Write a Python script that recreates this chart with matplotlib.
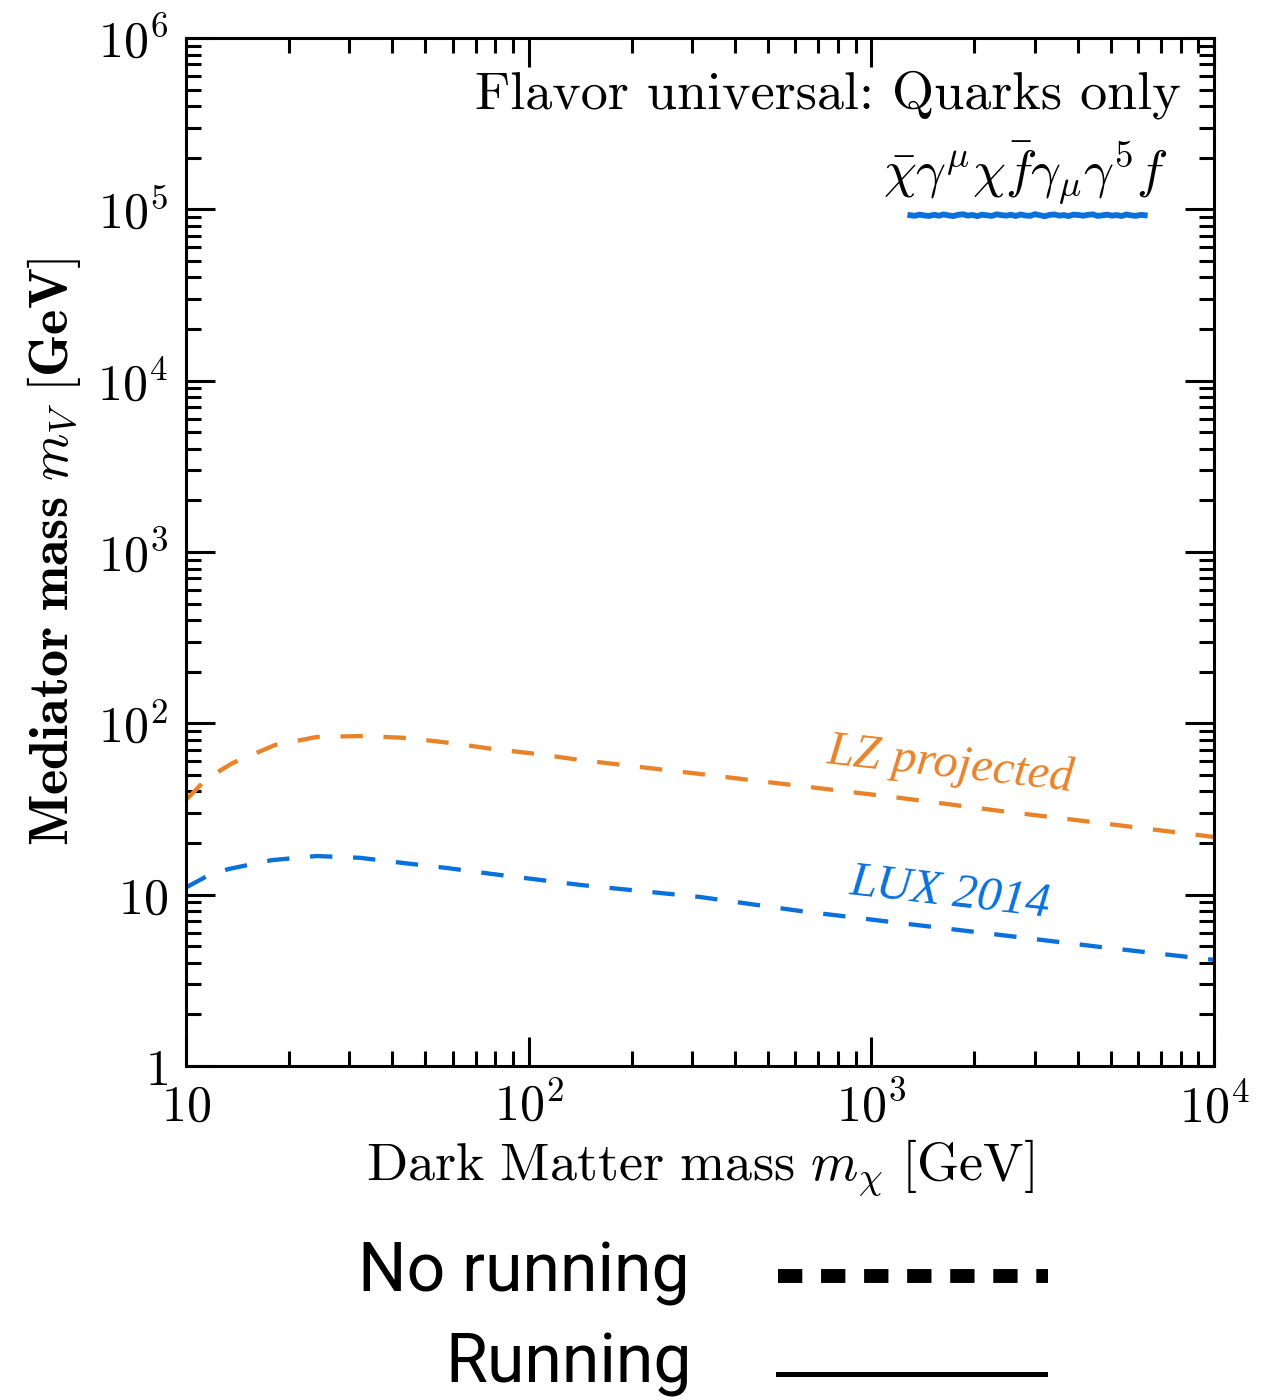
import matplotlib
matplotlib.use('Agg')
import matplotlib.pyplot as plt
from matplotlib.ticker import LogLocator, NullFormatter, FixedLocator, FixedFormatter
from matplotlib.lines import Line2D

plt.rcParams['mathtext.fontset'] = 'cm'
plt.rcParams['font.family'] = 'serif'
plt.rcParams['font.serif'] = ['DejaVu Serif']
plt.rcParams['axes.unicode_minus'] = False

# dark matter mass [GeV]
mx_lz = [10, 11.5, 13.7, 18.2, 24.1, 32.9, 44.2, 58.9, 78.7, 106, 141, 316, 619, 1212, 2374, 4649, 10000]
mv_lz = [35.7, 47.5, 58.7, 74.7, 83.2, 84.3, 82.1, 76.8, 70.8, 66.2, 61.1, 50.6, 43.1, 36.7, 30.8, 26.2, 21.7]

mx_lux = [10, 11.5, 13.3, 17.8, 24.1, 32.2, 43.0, 57.8, 78.2, 104, 141, 316, 619, 1212, 2374, 4649, 10000]
mv_lux = [11.0, 12.8, 14.1, 15.9, 16.8, 16.4, 15.3, 14.3, 13.2, 12.3, 11.4, 9.69, 8.03, 6.83, 5.82, 4.95, 4.16]

# running result (noisy numerical band near 1e5)
mx_run = [1300, 1340, 1385, 1430, 1475, 1525, 1575, 1625, 1680, 1735, 1790, 1850, 1910, 1975, 2040,
          2105, 2175, 2245, 2320, 2395, 2475, 2555, 2640, 2725, 2815, 2910, 3005, 3105, 3205, 3310,
          3420, 3530, 3650, 3770, 3890, 4020, 4150, 4290, 4430, 4575, 4725, 4880, 5040, 5205, 5375,
          5555, 5735, 5925, 6120, 6280]
mv_run = [92300, 91600, 93100, 92000, 91400, 92900, 91700, 93300, 92100, 91300, 92800, 93500, 91900,
          92600, 91200, 93000, 92200, 91500, 93400, 92500, 91800, 92900, 91400, 93200, 92000, 91600,
          93600, 92300, 91100, 92700, 93300, 91900, 92400, 91300, 93100, 92600, 91700, 92900, 93400,
          91500, 92200, 93000, 91800, 92500, 91400, 93200, 92100, 91600, 92800, 92300]

yticks = [1, 10, 100, 1e3, 1e4, 1e5, 1e6]
ylabels = ['$1$', '$10$', '$10^2$', '$10^3$', '$10^4$', '$10^5$', '$10^6$']
xticks = [10, 100, 1e3, 1e4]
xlabels = ['$10$', '$10^2$', '$10^3$', '$10^4$']

orange = '#E8832A'
blue = '#0A70DC'

fig = plt.figure(figsize=(12.86, 14), dpi=100)
ax = fig.add_axes([0.1446, 0.2386, 0.7994, 0.7343])

ax.plot(mx_lz, mv_lz, color=orange, lw=3.1, dashes=(5.2, 4.8))
ax.plot(mx_lux, mv_lux, color=blue, lw=3.1, dashes=(5.2, 4.8))
ax.plot(mx_run, mv_run, color=blue, lw=4.2, solid_joinstyle='miter')

ax.set_xscale('log'); ax.set_yscale('log')
ax.set_xlim(10, 1e4); ax.set_ylim(1, 1e6)

ax.xaxis.set_major_locator(FixedLocator(xticks))
ax.xaxis.set_major_formatter(FixedFormatter(xlabels))
ax.yaxis.set_major_locator(FixedLocator(yticks))
ax.yaxis.set_major_formatter(FixedFormatter(ylabels))
ax.xaxis.set_minor_locator(LogLocator(base=10, subs=range(2, 10), numticks=20))
ax.yaxis.set_minor_locator(LogLocator(base=10, subs=range(2, 10), numticks=20))
ax.xaxis.set_minor_formatter(NullFormatter())
ax.yaxis.set_minor_formatter(NullFormatter())

ax.tick_params(which='both', direction='in', top=True, right=True, labelsize=36, width=2.2)
ax.tick_params(which='major', length=21)
ax.tick_params(axis='y', which='major', pad=13)
ax.tick_params(axis='x', which='major', pad=12)
ax.tick_params(which='minor', length=10.5)
for s in ax.spines.values():
    s.set_linewidth(2.2)

ax.set_xlabel(r'$\mathrm{Dark\ Matter\ mass}\ m_\chi\ \mathrm{[GeV]}$', fontsize=39, labelpad=4)
ax.set_ylabel(r'$\mathbf{Mediator\ mass}\ m_V\ \mathbf{[GeV]}$', fontsize=39, labelpad=10)

ax.text(0.968, 0.945, 'Flavor universal: Quarks only', transform=ax.transAxes,
        ha='right', va='center', fontsize=39, family='cmr10')
ax.text(0.955, 0.868, r'$\bar{\chi}\gamma^{\mu}\chi\bar{f}\gamma_{\mu}\gamma^5 f$', transform=ax.transAxes,
        ha='right', va='center', fontsize=38)

ax.text(1700, 57, 'LZ projected', color=orange, fontsize=35, style='italic',
        family='Liberation Serif', rotation=-6.5, ha='center', va='center')
ax.text(1700, 10.2, 'LUX 2014', color=blue, fontsize=35, style='italic',
        family='Liberation Serif', rotation=-6.5, ha='center', va='center')

# legend for line styles
fig.text(690 / 1286, 1 - 1273 / 1400, 'No running', ha='right', va='center', fontsize=49,
         family='Roboto')
fig.text(692 / 1286, 1 - 1364 / 1400, 'Running', ha='right', va='center', fontsize=49,
         family='Roboto')
fig.add_artist(Line2D([778 / 1286, 1048 / 1286], [1 - 1276 / 1400] * 2, color='black', lw=10,
                      dashes=(1.75, 1.35), dash_capstyle='butt'))
fig.add_artist(Line2D([778 / 1286, 1045 / 1286], [1 - 1374 / 1400] * 2, color='black', lw=3.6))

fig.savefig('out.png', dpi=100)
